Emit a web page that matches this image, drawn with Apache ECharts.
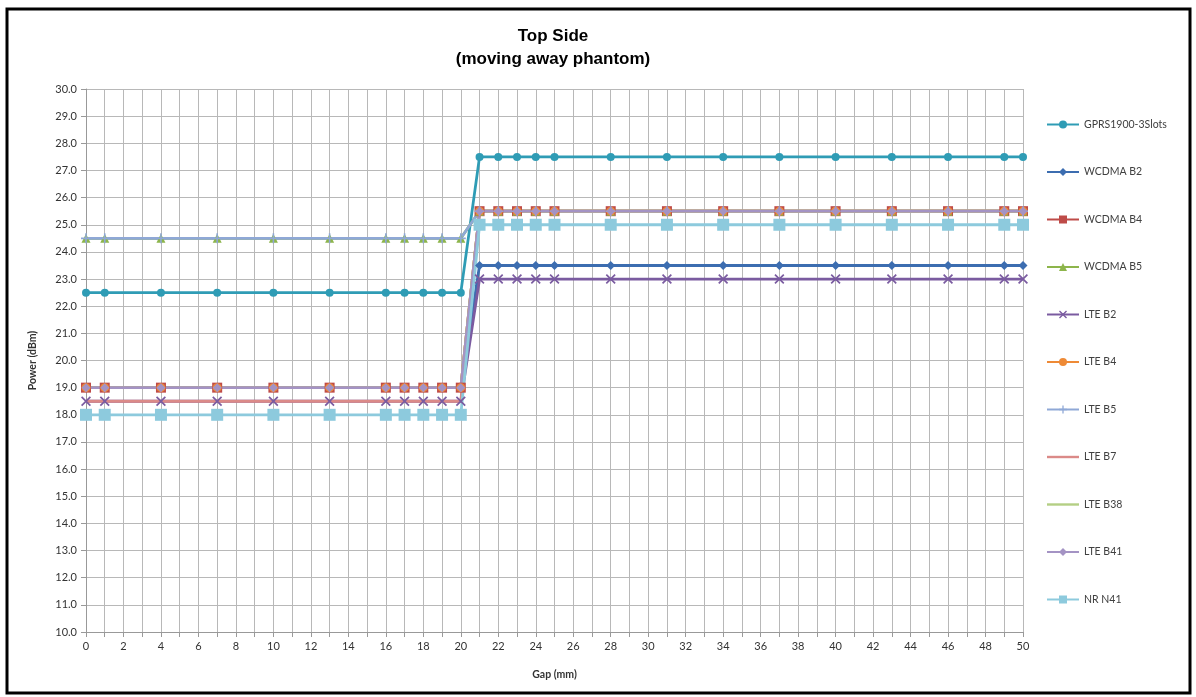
<!DOCTYPE html>
<html><head><meta charset="utf-8">
<script src="https://cdn.jsdelivr.net/npm/echarts@6/dist/echarts.min.js"></script>
<style>html,body{margin:0;padding:0;background:#fff}#c{width:1196px;height:697px}</style>
</head><body><div id="c"></div>
<script>
const gaps = [0,1,4,7,10,13,16,17,18,19,20,21,22,23,24,25,28,31,34,37,40,43,46,49,50];
const seriesNames = ['GPRS1900-3Slots','WCDMA B2','WCDMA B4','WCDMA B5','LTE B2','LTE B4','LTE B5','LTE B7','LTE B38','LTE B41','NR N41'];
const gprs1900   = [22.5,22.5,22.5,22.5,22.5,22.5,22.5,22.5,22.5,22.5,22.5,27.5,27.5,27.5,27.5,27.5,27.5,27.5,27.5,27.5,27.5,27.5,27.5,27.5,27.5];
const wcdmaB2    = [19.0,19.0,19.0,19.0,19.0,19.0,19.0,19.0,19.0,19.0,19.0,23.5,23.5,23.5,23.5,23.5,23.5,23.5,23.5,23.5,23.5,23.5,23.5,23.5,23.5];
const wcdmaB4    = [19.0,19.0,19.0,19.0,19.0,19.0,19.0,19.0,19.0,19.0,19.0,25.5,25.5,25.5,25.5,25.5,25.5,25.5,25.5,25.5,25.5,25.5,25.5,25.5,25.5];
const wcdmaB5    = [24.5,24.5,24.5,24.5,24.5,24.5,24.5,24.5,24.5,24.5,24.5,25.5,25.5,25.5,25.5,25.5,25.5,25.5,25.5,25.5,25.5,25.5,25.5,25.5,25.5];
const lteB2      = [18.5,18.5,18.5,18.5,18.5,18.5,18.5,18.5,18.5,18.5,18.5,23.0,23.0,23.0,23.0,23.0,23.0,23.0,23.0,23.0,23.0,23.0,23.0,23.0,23.0];
const lteB4      = [19.0,19.0,19.0,19.0,19.0,19.0,19.0,19.0,19.0,19.0,19.0,25.5,25.5,25.5,25.5,25.5,25.5,25.5,25.5,25.5,25.5,25.5,25.5,25.5,25.5];
const lteB5      = [24.5,24.5,24.5,24.5,24.5,24.5,24.5,24.5,24.5,24.5,24.5,25.5,25.5,25.5,25.5,25.5,25.5,25.5,25.5,25.5,25.5,25.5,25.5,25.5,25.5];
const lteB7      = [18.5,18.5,18.5,18.5,18.5,18.5,18.5,18.5,18.5,18.5,18.5,25.5,25.5,25.5,25.5,25.5,25.5,25.5,25.5,25.5,25.5,25.5,25.5,25.5,25.5];
const lteB38     = [19.0,19.0,19.0,19.0,19.0,19.0,19.0,19.0,19.0,19.0,19.0,25.5,25.5,25.5,25.5,25.5,25.5,25.5,25.5,25.5,25.5,25.5,25.5,25.5,25.5];
const lteB41     = [19.0,19.0,19.0,19.0,19.0,19.0,19.0,19.0,19.0,19.0,19.0,25.5,25.5,25.5,25.5,25.5,25.5,25.5,25.5,25.5,25.5,25.5,25.5,25.5,25.5];
const nrN41      = [18.0,18.0,18.0,18.0,18.0,18.0,18.0,18.0,18.0,18.0,18.0,25.0,25.0,25.0,25.0,25.0,25.0,25.0,25.0,25.0,25.0,25.0,25.0,25.0,25.0];
const allValues = [gprs1900,wcdmaB2,wcdmaB4,wcdmaB5,lteB2,lteB4,lteB5,lteB7,lteB38,lteB41,nrN41];

const colors = ['#2F9CB5','#3C6DB0','#BE4B48','#8DB54B','#7A5BA0','#EE8A36','#8FA8D6','#DB8A88','#B4CF84','#A493C4','#8DCADD'];
const X_SYM = 'path://M0,1.2 L1.2,0 L5,3.8 L8.8,0 L10,1.2 L6.2,5 L10,8.8 L8.8,10 L5,6.2 L1.2,10 L0,8.8 L3.8,5 Z';
const PLUS_SYM = 'path://M4.2,0 H5.8 V4.2 H10 V5.8 H5.8 V10 H4.2 V5.8 H0 V4.2 H4.2 Z';
const LINE_ICON = 'path://M0,0 H40 V3 H0 Z';
const symbols = ['circle','diamond','rect','triangle',X_SYM,'circle',PLUS_SYM,'none','none','diamond','rect'];
const sizes = [8,9,10,9,10,9,10,0,0,9,12];

const chart = echarts.init(document.getElementById('c'), null, {renderer:'canvas'});
const font = 'Lato, "Liberation Sans", sans-serif';
const series = seriesNames.map((n,i)=>({
  name:n, type:'line',
  data: gaps.map((g,j)=>[g, allValues[i][j]]),
  symbol: symbols[i], symbolSize: sizes[i], showSymbol: symbols[i] !== 'none',
  lineStyle:{color:colors[i], width:2.8},
  itemStyle:{color:colors[i]},
  emphasis:{disabled:true},
  animation:false
}));

chart.setOption({
  animation:false,
  backgroundColor:'#fff',
  color: colors,
  title:{
    text:'Top Side\n(moving away phantom)',
    left:548, top:20, textAlign:'center',
    textStyle:{fontFamily:'"Liberation Sans", Arial, sans-serif', fontSize:17, fontWeight:'bold', color:'#000', lineHeight:23}
  },
  graphic:[{type:'rect', shape:{x:7,y:9,width:1183,height:684}, style:{fill:'none', stroke:'#000', lineWidth:3}, silent:true}],
  legend:{
    orient:'vertical', left:1041, top:114, itemGap:36.5, itemWidth:32, itemHeight:10,
    textStyle:{fontFamily:font, fontSize:10.5, color:'#404040'},
    data: seriesNames.map((n,i)=> symbols[i]==='none' ? {name:n, icon:LINE_ICON} : {name:n})
  },
  grid:{left:86, right:173, top:89, bottom:65, containLabel:false},
  xAxis:{
    type:'value', min:0, max:50, interval:1,
    name:'Gap (mm)', nameLocation:'middle', nameGap:37,
    nameTextStyle:{fontFamily:font, fontSize:10.5, fontWeight:'bold', color:'#333'},
    axisLine:{show:true, lineStyle:{color:'#999'}},
    axisTick:{show:true, length:5, lineStyle:{color:'#999'}},
    axisLabel:{fontFamily:font, fontSize:11, color:'#333', margin:9,
      formatter:v=> (v%2===0 ? String(v) : '')},
    splitLine:{show:true, lineStyle:{color:'#B8B8B8', width:1}}
  },
  yAxis:{
    type:'value', min:10, max:30, interval:1,
    name:'Power (dBm)', nameLocation:'middle', nameGap:48,
    nameTextStyle:{fontFamily:font, fontSize:10.5, fontWeight:'bold', color:'#333'},
    axisLine:{show:true, lineStyle:{color:'#999'}},
    axisTick:{show:true, length:5, lineStyle:{color:'#999'}},
    axisLabel:{fontFamily:font, fontSize:11, color:'#333', margin:9, formatter:v=>v.toFixed(1)},
    splitLine:{show:true, lineStyle:{color:'#B8B8B8', width:1}}
  },
  series: series
});
</script></body></html>
